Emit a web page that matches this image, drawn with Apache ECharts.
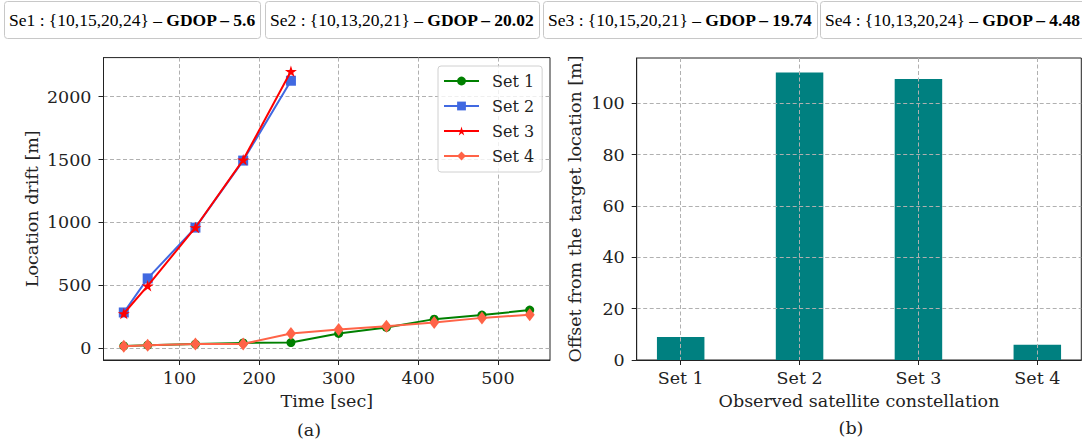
<!DOCTYPE html>
<html><head><meta charset="utf-8">
<script src="https://cdn.jsdelivr.net/npm/echarts@6/dist/echarts.min.js"></script>
<style>html,body{margin:0;padding:0;background:#fff}#c{width:1082px;height:442px}</style>
</head><body><div id="c"></div>
<script>
// ---- data ----
const timeSec = [30, 60, 120, 180, 240, 300, 360, 420, 480, 540];
const set1Drift = [18, 24, 33, 42, 45, 117, 165, 231, 263, 303];
const set2Drift = [284, 555, 959, 1492, 2127];
const set3Drift = [276, 496, 960, 1498, 2202];
const set4Drift = [16, 24, 34, 34, 117, 149, 175, 205, 241, 265];
const seriesNames = ['Set 1', 'Set 2', 'Set 3', 'Set 4'];
const constellations = ['Set 1', 'Set 2', 'Set 3', 'Set 4'];
const offsets = [9, 112, 109.4, 5.9];
const driftXTicks = [100, 200, 300, 400, 500];
const driftYTicks = [0, 500, 1000, 1500, 2000];
const offsetXTicks = [0, 1, 2, 3];
const offsetYTicks = [0, 20, 40, 60, 80, 100];
const headerPlain = ['Se1 : {10,15,20,24} – ', 'Se2 : {10,13,20,21} – ', 'Se3 : {10,15,20,21} – ', 'Se4 : {10,13,20,24} – '];
const headerGdop = ['GDOP – 5.6', 'GDOP – 20.02', 'GDOP – 19.74', 'GDOP – 4.48'];
const panelLabels = ['(a)', '(b)'];

// ---- styles ----
const SERIF = '"DejaVu Serif", serif';
const TXT = '#222';
const FS = 17.5;
const pairs = (xs, ys) => ys.map((y, i) => [xs[i], y]);
const STAR = 'path://M50,0L61.23,34.55L97.55,34.55L68.17,55.9L79.39,90.45L50,69.1L20.61,90.45L31.83,55.9L2.45,34.55L38.77,34.55Z';
const gridLine = { show: true, lineStyle: { type: [4, 2.5], color: '#b0b0b0', width: 1 } };
const axLine = { show: true, onZero: false, lineStyle: { color: '#222', width: 1 } };
const font = { fontFamily: SERIF, fontSize: FS, color: TXT };

function xAx(gi, min, max, ticks, name, fmt, z) {
  return {
    type: 'value', gridIndex: gi, min: min, max: max, z: z,
    name: name, nameLocation: 'middle', nameGap: 32, nameTextStyle: Object.assign({ lineHeight: 18 }, font),
    axisLine: axLine,
    axisTick: { show: true, inside: false, length: 5, customValues: ticks, lineStyle: { color: '#222' } },
    axisLabel: Object.assign({ customValues: ticks, margin: 9, formatter: fmt, lineHeight: 18 }, font),
    splitLine: gridLine
  };
}
function yAx(gi, min, max, ticks, name, gap, z) {
  return {
    type: 'value', gridIndex: gi, min: min, max: max, z: z,
    name: name, nameLocation: 'middle', nameGap: gap, nameTextStyle: Object.assign({ lineHeight: 18 }, font),
    axisLine: axLine,
    axisTick: { show: true, inside: false, length: 5, customValues: ticks, lineStyle: { color: '#222' } },
    axisLabel: Object.assign({ customValues: ticks, margin: 12, formatter: v => String(v) }, font),
    splitLine: gridLine
  };
}

const headerLeft = [4, 265, 543, 820];
const HFONT = '"Liberation Serif", "Times New Roman", serif';
const titles = headerPlain.map((p, i) => ({
  left: headerLeft[i], top: 1,
  text: p + '{b|' + headerGdop[i] + '}',
  padding: [9, 5, 9, 5],
  borderColor: '#c8c8c8', borderWidth: 1, borderRadius: 3,
  textStyle: {
    fontFamily: HFONT, fontSize: 17.5, fontWeight: 'normal',
    color: '#000', lineHeight: 20,
    rich: { b: { fontFamily: HFONT, fontSize: 17.5, fontWeight: 'bold', color: '#000', lineHeight: 20 } }
  }
}));

const lineColors = ['#008000', '#4169E1', '#FF0000', '#FF6347'];
const lineData = [pairs(timeSec, set1Drift), pairs(timeSec, set2Drift), pairs(timeSec, set3Drift), pairs(timeSec, set4Drift)];
const symbols = ['circle', 'rect', STAR, 'diamond'];
const symbolSizes = [9, 10, 12, [10, 13]];

const lineSeries = seriesNames.map((n, i) => ({
  type: 'line', name: n, xAxisIndex: 0, yAxisIndex: 0,
  data: lineData[i], symbol: symbols[i], symbolSize: symbolSizes[i], symbolKeepAspect: i === 2,
  showAllSymbol: true, animation: false,
  color: lineColors[i],
  lineStyle: { color: lineColors[i], width: 2 },
  itemStyle: { color: lineColors[i], borderWidth: 0 },
  z: 2 + i * 0.01
}));

const option = {
  animation: false,
  backgroundColor: '#fff',
  title: titles,
  grid: [
    { left: 103.5, top: 57.6, width: 446.5, height: 302.4, show: true, borderColor: '#222', borderWidth: 1, backgroundColor: 'transparent' },
    { left: 636.7, top: 58, width: 444.6, height: 302, show: true, borderColor: '#222', borderWidth: 1, backgroundColor: 'transparent' }
  ],
  xAxis: [
    xAx(0, 4.5, 565.5, driftXTicks, 'Time [sec]', v => String(v), 0),
    xAx(1, -0.37, 3.37, offsetXTicks, 'Observed satellite constellation', v => constellations[Math.round(v)] || '', 5)
  ],
  yAxis: [
    yAx(0, -94, 2311, driftYTicks, 'Location drift [m]', 63, 0),
    yAx(1, 0, 117.6, offsetYTicks, 'Offset from the target location [m]', 52.5, 5)
  ],
  legend: {
    data: seriesNames, orient: 'vertical', left: 438, top: 66,
    itemWidth: 35, itemHeight: 11, itemGap: 9,
    padding: [7, 8, 8, 5],
    backgroundColor: 'rgba(255,255,255,0.8)', borderColor: '#d0d0d0', borderWidth: 1, borderRadius: 3,
    textStyle: { fontFamily: SERIF, fontSize: 16, color: TXT, lineHeight: 16, padding: [0, 0, 0, 8] }
  },
  graphic: [
    { type: 'text', x: 309, y: 430, style: { text: panelLabels[0], font: FS + 'px "DejaVu Serif"', fill: TXT, textAlign: 'center', textVerticalAlign: 'middle', align: 'center', verticalAlign: 'middle' } },
    { type: 'text', x: 851, y: 428, style: { text: panelLabels[1], font: FS + 'px "DejaVu Serif"', fill: TXT, textAlign: 'center', textVerticalAlign: 'middle', align: 'center', verticalAlign: 'middle' } }
  ],
  series: lineSeries.concat([{
    type: 'bar', xAxisIndex: 1, yAxisIndex: 1,
    data: pairs(offsetXTicks, offsets), barWidth: 47.5,
    itemStyle: { color: '#008080' }, z: 1
  }])
};

const chart = echarts.init(document.getElementById('c'), null, { renderer: 'svg' });
chart.setOption(option);
</script>
</body></html>
